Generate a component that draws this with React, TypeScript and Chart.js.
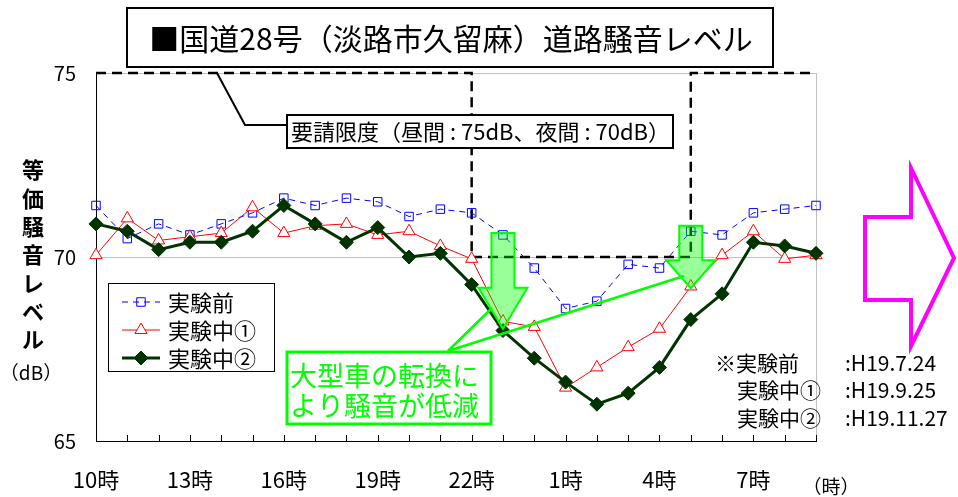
import React, { useEffect, useRef } from "react";
import { Chart, registerables } from "chart.js";

Chart.register(...registerables);

const FONT = '"Noto Sans CJK JP", "Noto Sans", sans-serif';

// Hourly categories, 10時 through 9時 of the next morning
const hours = [
  "10時", "11時", "12時", "13時", "14時", "15時", "16時", "17時", "18時", "19時", "20時", "21時",
  "22時", "23時", "0時", "1時", "2時", "3時", "4時", "5時", "6時", "7時", "8時", "9時",
];

// Equivalent noise level (dB) for each survey
const beforeTest = [
  71.4, 70.5, 70.9, 70.6, 70.9, 71.2, 71.6, 71.4, 71.6, 71.5, 71.1, 71.3,
  71.2, 70.6, 69.7, 68.6, 68.8, 69.8, 69.7, 70.7, 70.6, 71.2, 71.3, 71.4,
];
const duringTest1 = [
  70.05, 71.05, 70.45, 70.55, 70.65, 71.35, 70.65, 70.85, 70.9, 70.6, 70.7, 70.3,
  69.95, 68.25, 68.1, 66.45, 67.0, 67.55, 68.05, 69.2, 70.05, 70.7, 69.95, 70.05,
];
const duringTest2 = [
  70.9, 70.7, 70.2, 70.4, 70.4, 70.7, 71.4, 70.9, 70.4, 70.8, 70.0, 70.1,
  69.25, 68.0, 67.25, 66.6, 66.0, 66.3, 67.0, 68.3, 69.0, 70.4, 70.3, 70.1,
];

const seriesNames = ["実験前", "実験中①", "実験中②"];
const yTicks = [65, 70, 75];

// Request limit: 75 dB daytime, 70 dB at night (22時–5時)
const limitPath: [string, number][] = [
  ["10時", 75], ["22時", 75], ["22時", 70], ["5時", 70], ["5時", 75], ["9時", 75],
];

// Arrows showing the drop after trucks were diverted
const dropArrows = [
  { at: "23時", from: 70.65, to: 68.05, headLen: 41 },
  { at: "5時", from: 70.85, to: 69.15, headLen: 28 },
];

const titleText = "■国道28号（淡路市久留麻）道路騒音レベル";
const limitText = "要請限度（昼間 : 75dB、夜間 : 70dB）";
const noteLines = ["大型車の転換に", "より騒音が低減"];
const surveyDates: [string, string][] = [
  ["※実験前", ":H19.7.24"],
  ["実験中①", ":H19.9.25"],
  ["実験中②", ":H19.11.27"],
];
const yTitleChars = ["等", "価", "騒", "音", "レ", "ベ", "ル"];

function marker(ctx: CanvasRenderingContext2D, style: string, x: number, y: number, r: number) {
  ctx.beginPath();
  if (style === "rect") {
    const s = r * Math.SQRT1_2;
    ctx.rect(x - s, y - s, 2 * s, 2 * s);
  } else if (style === "triangle") {
    for (let k = 0; k < 3; k++) {
      const a = (k * 2 * Math.PI) / 3;
      const px = x + Math.sin(a) * r;
      const py = y - Math.cos(a) * r;
      k ? ctx.lineTo(px, py) : ctx.moveTo(px, py);
    }
    ctx.closePath();
  } else {
    ctx.moveTo(x, y - r);
    ctx.lineTo(x + r, y);
    ctx.lineTo(x, y + r);
    ctx.lineTo(x - r, y);
    ctx.closePath();
  }
}

const decorations = {
  id: "decorations",
  beforeDatasetsDraw(chart: any) {
    const { ctx, chartArea: a, scales } = chart;
    const x = scales.x, y = scales.y;
    ctx.save();
    // grey frame on the right
    ctx.strokeStyle = "#c0c0c0";
    ctx.lineWidth = 1;
    ctx.beginPath();
    ctx.moveTo(Math.round(a.right) + 0.5, a.top);
    ctx.lineTo(Math.round(a.right) + 0.5, a.bottom);
    ctx.stroke();
    // limit outline
    ctx.strokeStyle = "#000";
    ctx.lineWidth = 2.5;
    ctx.setLineDash([10, 6]);
    ctx.beginPath();
    limitPath.forEach(([h, v], i) => {
      const px = x.getPixelForValue(hours.indexOf(h));
      const py = y.getPixelForValue(v);
      i ? ctx.lineTo(px, py) : ctx.moveTo(px, py);
    });
    ctx.stroke();
    ctx.restore();
  },
  afterDatasetsDraw(chart: any) {
    const { ctx, chartArea: a, scales } = chart;
    const x = scales.x, y = scales.y;
    ctx.save();

    // inner tick marks on the hour axis
    ctx.strokeStyle = "#000";
    ctx.lineWidth = 1;
    ctx.beginPath();
    for (let i = 1; i < hours.length; i++) {
      const px = Math.round(x.getPixelForTick(i)) + 0.5;
      ctx.moveTo(px, a.bottom);
      ctx.lineTo(px, a.bottom - 6);
    }
    ctx.stroke();

    // green arrows
    dropArrows.forEach((d) => {
      const cx = x.getPixelForValue(hours.indexOf(d.at));
      const top = y.getPixelForValue(d.from);
      const tip = y.getPixelForValue(d.to);
      const sh = 11.5, hh = 24.5;
      ctx.beginPath();
      ctx.moveTo(cx - sh, top);
      ctx.lineTo(cx + sh, top);
      ctx.lineTo(cx + sh, tip - d.headLen);
      ctx.lineTo(cx + hh, tip - d.headLen);
      ctx.lineTo(cx, tip);
      ctx.lineTo(cx - hh, tip - d.headLen);
      ctx.lineTo(cx - sh, tip - d.headLen);
      ctx.closePath();
      ctx.fillStyle = "rgba(0,255,0,0.4)";
      ctx.fill();
      ctx.strokeStyle = "#00ff00";
      ctx.lineWidth = 2;
      ctx.stroke();
    });

    // callout leaders and note box
    ctx.strokeStyle = "#00ff00";
    ctx.lineWidth = 2.5;
    ctx.beginPath();
    ctx.moveTo(448, 351);
    ctx.lineTo(492, 308);
    ctx.moveTo(448, 351);
    ctx.lineTo(684, 276);
    ctx.stroke();
    ctx.fillStyle = "#fff";
    ctx.fillRect(287, 352, 204, 72);
    ctx.lineWidth = 3;
    ctx.strokeRect(287, 352, 204, 72);
    ctx.fillStyle = "#00ff00";
    ctx.font = `27px ${FONT}`;
    ctx.textAlign = "left";
    ctx.textBaseline = "middle";
    ctx.fillText(noteLines[0], 290, 376);
    ctx.fillText(noteLines[1], 290, 406);

    // legend
    ctx.fillStyle = "#fff";
    ctx.fillRect(108.5, 283.5, 166, 88);
    ctx.strokeStyle = "#000";
    ctx.lineWidth = 1;
    ctx.strokeRect(108.5, 283.5, 166, 88);
    chart.data.datasets.forEach((ds: any, i: number) => {
      const ly = 302 + i * 28;
      ctx.save();
      ctx.strokeStyle = ds.borderColor;
      ctx.lineWidth = ds.borderWidth;
      ctx.setLineDash(ds.borderDash || []);
      ctx.beginPath();
      ctx.moveTo(122, ly);
      ctx.lineTo(160, ly);
      ctx.stroke();
      ctx.setLineDash([]);
      ctx.lineWidth = ds.pointBorderWidth;
      marker(ctx, ds.pointStyle, 141, ly, ds.pointRadius);
      ctx.fillStyle = ds.pointBackgroundColor;
      ctx.fill();
      ctx.strokeStyle = ds.pointBorderColor;
      ctx.stroke();
      ctx.restore();
      ctx.fillStyle = "#000";
      ctx.font = `22px ${FONT}`;
      ctx.textAlign = "left";
      ctx.textBaseline = "middle";
      ctx.fillText(ds.label, 168, ly + 1);
    });

    // limit callout
    ctx.strokeStyle = "#000";
    ctx.lineWidth = 2;
    ctx.beginPath();
    ctx.moveTo(217, a.top);
    ctx.lineTo(245, 125);
    ctx.lineTo(287, 125);
    ctx.stroke();
    ctx.fillStyle = "#fff";
    ctx.fillRect(287, 115, 386, 33);
    ctx.strokeRect(287, 115, 386, 33);
    ctx.fillStyle = "#000";
    ctx.font = `22px ${FONT}`;
    ctx.fillText(limitText, 291, 132);

    ctx.restore();
  },
  afterDraw(chart: any) {
    const { ctx } = chart;
    ctx.save();
    ctx.fillStyle = "#000";
    ctx.textBaseline = "middle";

    // title box
    ctx.fillStyle = "#fff";
    ctx.fillRect(127, 8, 646, 59);
    ctx.strokeStyle = "#000";
    ctx.lineWidth = 2;
    ctx.strokeRect(127, 8, 646, 59);
    ctx.fillStyle = "#000";
    ctx.textAlign = "center";
    ctx.font = `30px ${FONT}`;
    ctx.fillText(titleText, 451, 39);

    // vertical axis title
    ctx.font = `bold 22px ${FONT}`;
    yTitleChars.forEach((c, i) => ctx.fillText(c, 33, 170 + i * 28.3));
    ctx.font = `19px ${FONT}`;
    ctx.fillText("（dB）", 31, 373);

    // hour unit
    ctx.font = `19px ${FONT}`;
    ctx.fillText("（時）", 831, 487);

    // survey dates
    ctx.font = `21px ${FONT}`;
    ctx.textAlign = "left";
    surveyDates.forEach(([name, date], i) => {
      const ly = 363 + i * 27.5;
      ctx.fillText(name, i === 0 ? 715 : 737, ly);
      ctx.fillText(date, 845, ly);
    });

    // pink arrow
    ctx.strokeStyle = "#ff00ff";
    ctx.lineWidth = 4;
    ctx.lineJoin = "miter";
    ctx.beginPath();
    ctx.moveTo(865, 217);
    ctx.lineTo(911, 217);
    ctx.lineTo(911, 168);
    ctx.lineTo(954, 258);
    ctx.lineTo(911, 346);
    ctx.lineTo(911, 300);
    ctx.lineTo(865, 300);
    ctx.closePath();
    ctx.stroke();

    ctx.restore();
  },
};

export default function App() {
  const ref = useRef<HTMLCanvasElement>(null);

  useEffect(() => {
    document.body.style.margin = "0";
    const canvas = ref.current!;
    const chart = new Chart(canvas, {
      type: "line",
      data: {
        labels: hours,
        datasets: [
          {
            label: seriesNames[0],
            data: beforeTest,
            borderColor: "#0000ff",
            borderWidth: 1,
            borderDash: [6, 5],
            pointStyle: "rect",
            pointRadius: 6,
            pointBorderWidth: 1,
            pointBorderColor: "#0000ff",
            pointBackgroundColor: "rgba(0,0,0,0)",
            order: 3,
          },
          {
            label: seriesNames[1],
            data: duringTest1,
            borderColor: "#ff0000",
            borderWidth: 1,
            pointStyle: "triangle",
            pointRadius: 7,
            pointBorderWidth: 1,
            pointBorderColor: "#ff0000",
            pointBackgroundColor: "#ffffff",
            order: 2,
          },
          {
            label: seriesNames[2],
            data: duringTest2,
            borderColor: "#003300",
            borderWidth: 3,
            pointStyle: "rectRot",
            pointRadius: 7,
            pointBorderWidth: 1,
            pointBorderColor: "#003300",
            pointBackgroundColor: "#003300",
            order: 1,
          },
        ] as any,
      },
      options: {
        animation: false,
        responsive: false,
        layout: { padding: { top: 73, right: 142, left: 0, bottom: 0 } },
        plugins: { legend: { display: false }, tooltip: { enabled: false } },
        elements: { line: { tension: 0 } },
        scales: {
          x: {
            type: "category",
            offset: false,
            grid: { color: "transparent", drawTicks: false },
            border: { color: "#000", width: 1 },
            ticks: {
              autoSkip: false,
              maxRotation: 0,
              minRotation: 0,
              padding: 25,
              color: "#000",
              font: { family: FONT, size: 22 },
              callback(this: any, v: any, i: number) {
                return i % 3 === 0 ? this.getLabelForValue(v) : "";
              },
            },
            afterFit(s: any) {
              s.height = 56;
            },
          },
          y: {
            min: yTicks[0],
            max: yTicks[yTicks.length - 1],
            afterBuildTicks(s: any) {
              s.ticks = yTicks.map((v) => ({ value: v }));
            },
            grid: {
              drawTicks: false,
              color: (c: any) => (c.tick && c.tick.value === yTicks[0] ? "transparent" : "#c0c0c0"),
            },
            border: { color: "#000", width: 1 },
            ticks: {
              padding: 20,
              color: "#000",
              font: { family: FONT, size: 20 },
            },
            afterFit(s: any) {
              s.width = 96;
            },
          },
        },
      } as any,
      plugins: [decorations],
    });
    return () => chart.destroy();
  }, []);

  return (
    <div style={{ position: "fixed", left: 0, top: 0, width: 958, height: 497, background: "#fff" }}>
      <canvas ref={ref} width={958} height={497} style={{ display: "block" }} />
    </div>
  );
}
